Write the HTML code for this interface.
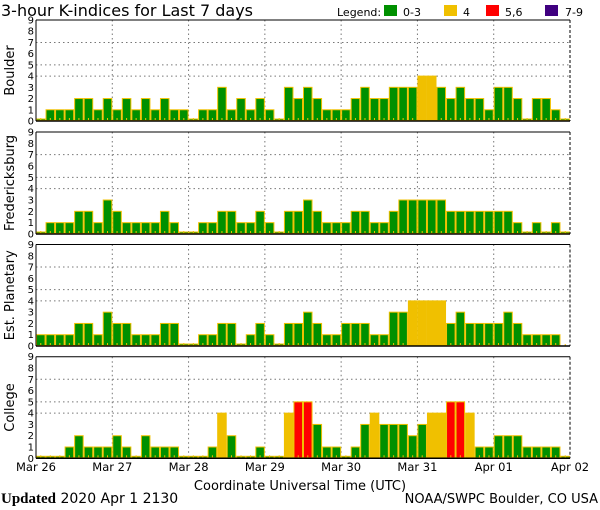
<!DOCTYPE html>
<html><head><meta charset="utf-8"><style>
body{margin:0;background:#fff}
svg{display:block}
text{font-family:"DejaVu Sans","Liberation Sans",sans-serif;fill:#000}
</style></head><body>
<svg id="s" width="600" height="510" xmlns="http://www.w3.org/2000/svg">
<text x="1" y="16" font-size="16" textLength="252" lengthAdjust="spacingAndGlyphs">3-hour K-indices for Last 7 days</text>
<text x="337" y="16" font-size="11">Legend:</text>
<rect x="384" y="5" width="13" height="11" fill="#009000"/><text x="403" y="16" font-size="11">0-3</text>
<rect x="444" y="5" width="13" height="11" fill="#f0c000"/><text x="463" y="16" font-size="11">4</text>
<rect x="486" y="5" width="13" height="11" fill="#ff0000"/><text x="505" y="16" font-size="11">5,6</text>
<rect x="545" y="5" width="13" height="11" fill="#400080"/><text x="565" y="16" font-size="11">7-9</text>
<text x="300" y="490" font-size="13" text-anchor="middle">Coordinate Universal Time (UTC)</text>
<text x="1" y="503" font-size="14"><tspan font-family="Liberation Serif" font-weight="bold" font-size="15">Updated</tspan> 2020 Apr  1 2130</text>
<text x="598" y="503" font-size="13" text-anchor="end">NOAA/SWPC Boulder, CO USA</text>
</svg>
<script>
var s=document.getElementById('s'),NS='http://www.w3.org/2000/svg';
function el(t,a,txt){var e=document.createElementNS(NS,t);for(var k in a)e.setAttribute(k,a[k]);if(txt!=null)e.textContent=txt;s.appendChild(e);return e;}
var X0=36,X1=570,W=X1-X0,bw=W/56;
var P=[
{n:'Boulder',t:20,b:121,d:[0,1,1,1,2,2,1,2,1,2,1,2,1,2,1,1,0,1,1,3,1,2,1,2,1,0,3,2,3,2,1,1,1,2,3,2,2,3,3,3,4,4,3,2,3,2,2,1,3,3,2,0,2,2,1,0]},
{n:'Fredericksburg',t:132,b:234,d:[0,1,1,1,2,2,1,3,2,1,1,1,1,2,1,0,0,1,1,2,2,1,1,2,1,0,2,2,3,2,1,1,1,2,2,1,1,2,3,3,3,3,3,2,2,2,2,2,2,2,1,0,1,0,1,0]},
{n:'Est. Planetary',t:244.5,b:346,d:[1,1,1,1,2,2,1,3,2,2,1,1,1,2,2,0,0,1,1,2,2,0,1,2,1,0,2,2,3,2,1,1,2,2,2,1,1,3,3,4,4,4,4,2,3,2,2,2,2,3,2,1,1,1,1,-1]},
{n:'College',t:356.7,b:458.3,d:[0,0,0,1,2,1,1,1,2,1,0,2,1,1,1,0,0,0,1,4,2,0,0,1,0,0,4,5,5,3,1,1,0,1,3,4,3,3,3,2,3,4,4,5,5,4,1,1,2,2,2,1,1,1,1,0]}
];
P.forEach(function(p){
 var h=p.b-p.t,u=h/9;
 [4,5,7].forEach(function(k){var y=p.b-k*u;el('line',{x1:X0,x2:X1,y1:y,y2:y,stroke:'#777','stroke-dasharray':'1.5,3'});});
 for(var d=1;d<7;d++){var x=X0+d*W/7;el('line',{x1:x,x2:x,y1:p.t,y2:p.b,stroke:'#777','stroke-dasharray':'1.5,3'});}
 p.d.forEach(function(v,i){
  var x=X0+i*bw;
  if(v<0){el('rect',{x:x+bw/2-0.5,y:p.b-2,width:1,height:2,fill:'#f0c000'});return;}
  var c=v<=3?'#009000':(v==4?'#f0c000':(v<=6?'#ff0000':'#400080'));
  var hh=Math.max(v*u,2);
  el('rect',{x:x+0.5,y:p.b-hh,width:bw-1,height:hh-0.5,fill:c,stroke:'#f0c000','stroke-width':1});
  el('rect',{x:x+bw/2-0.5,y:p.b-3,width:1,height:3,fill:'#f0c000'});
 });
 el('line',{x1:X0,x2:X1,y1:p.t,y2:p.t,stroke:'#000','stroke-width':1});
 el('line',{x1:X0,x2:X1,y1:p.b,y2:p.b,stroke:'#000','stroke-width':1.5});
 el('line',{x1:X0,x2:X0,y1:p.t,y2:p.b,stroke:'#000','stroke-width':1});
 el('line',{x1:X1,x2:X1,y1:p.t,y2:p.b,stroke:'#000','stroke-dasharray':'3,2'});
 for(var k=0;k<=9;k++){el('text',{x:34,y:p.b-k*u+3.5,'font-size':10,'text-anchor':'end'},String(k));}
 var cy=(p.t+p.b)/2;
 el('text',{x:0,y:0,'font-size':13,'text-anchor':'middle',transform:'translate(14,'+cy+') rotate(-90)'},p.n);
});
['Mar 26','Mar 27','Mar 28','Mar 29','Mar 30','Mar 31','Apr 01','Apr 02'].forEach(function(l,i){
 el('text',{x:X0+i*W/7,y:471,'font-size':11.5,'text-anchor':'middle'},l);
});
</script>
</body></html>
